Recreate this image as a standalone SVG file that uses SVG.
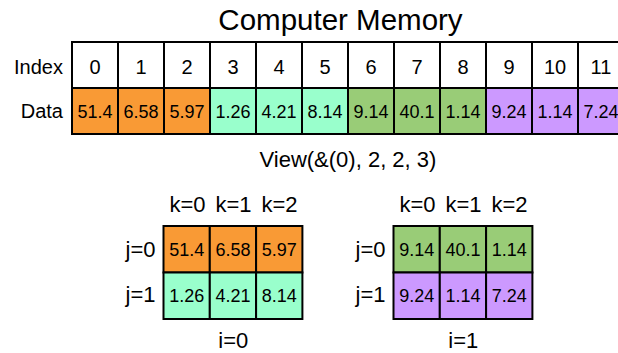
<svg xmlns="http://www.w3.org/2000/svg" width="618" height="353" viewBox="0 0 618 353">
  <style>
    text { font-family: "Liberation Sans", Arial, Helvetica, sans-serif; fill: #000; }
    .title { font-size: 29.5px; text-anchor: middle; }
    .lbl { font-size: 20px; }
    .ax { font-size: 22px; }
    .mid { text-anchor: middle; }
    .end { text-anchor: end; }
    .val { font-size: 18px; text-anchor: middle; }
    .cell { stroke: #000; stroke-width: 2; }
    .w { fill: #fff; }
    .o { fill: #f99a35; }
    .m { fill: #99ffcc; }
    .g { fill: #99cc77; }
    .p { fill: #cc99ff; }
  </style>

  <text class="title" x="340.5" y="30">Computer Memory</text>

  <!-- linear memory: index row and data row -->
  <g id="memory">
    <text class="lbl end" x="63" y="74">Index</text>
    <text class="lbl end" x="63" y="118">Data</text>
    <g class="cell">
      <rect class="w" x="72" y="42" width="46" height="46"/>
      <rect class="w" x="118" y="42" width="46" height="46"/>
      <rect class="w" x="164" y="42" width="46" height="46"/>
      <rect class="w" x="210" y="42" width="46" height="46"/>
      <rect class="w" x="256" y="42" width="46" height="46"/>
      <rect class="w" x="302" y="42" width="46" height="46"/>
      <rect class="w" x="348" y="42" width="46" height="46"/>
      <rect class="w" x="394" y="42" width="46" height="46"/>
      <rect class="w" x="440" y="42" width="46" height="46"/>
      <rect class="w" x="486" y="42" width="46" height="46"/>
      <rect class="w" x="532" y="42" width="46" height="46"/>
      <rect class="w" x="578" y="42" width="46" height="46"/>
      <rect class="o" x="72" y="88" width="46" height="46"/>
      <rect class="o" x="118" y="88" width="46" height="46"/>
      <rect class="o" x="164" y="88" width="46" height="46"/>
      <rect class="m" x="210" y="88" width="46" height="46"/>
      <rect class="m" x="256" y="88" width="46" height="46"/>
      <rect class="m" x="302" y="88" width="46" height="46"/>
      <rect class="g" x="348" y="88" width="46" height="46"/>
      <rect class="g" x="394" y="88" width="46" height="46"/>
      <rect class="g" x="440" y="88" width="46" height="46"/>
      <rect class="p" x="486" y="88" width="46" height="46"/>
      <rect class="p" x="532" y="88" width="46" height="46"/>
      <rect class="p" x="578" y="88" width="46" height="46"/>
    </g>
    <g class="lbl mid">
      <text x="95" y="74">0</text>
      <text x="141" y="74">1</text>
      <text x="187" y="74">2</text>
      <text x="233" y="74">3</text>
      <text x="279" y="74">4</text>
      <text x="325" y="74">5</text>
      <text x="371" y="74">6</text>
      <text x="417" y="74">7</text>
      <text x="463" y="74">8</text>
      <text x="509" y="74">9</text>
      <text x="555" y="74">10</text>
      <text x="601" y="74">11</text>
    </g>
    <g>
      <text class="val" x="95" y="118">51.4</text>
      <text class="val" x="141" y="118">6.58</text>
      <text class="val" x="187" y="118">5.97</text>
      <text class="val" x="233" y="118">1.26</text>
      <text class="val" x="279" y="118">4.21</text>
      <text class="val" x="325" y="118">8.14</text>
      <text class="val" x="371" y="118">9.14</text>
      <text class="val" x="417" y="118">40.1</text>
      <text class="val" x="463" y="118">1.14</text>
      <text class="val" x="509" y="118">9.24</text>
      <text class="val" x="555" y="118">1.14</text>
      <text class="val" x="601" y="118">7.24</text>
    </g>
  </g>

  <text class="ax" x="259.5" y="166.5">View(&amp;(0), 2, 2, 3)</text>

  <!-- view slice i=0 -->
  <g id="slice-i0">
    <g class="ax mid">
      <text x="187.5" y="211.5">k=0</text>
      <text x="233.5" y="211.5">k=1</text>
      <text x="279.5" y="211.5">k=2</text>
    </g>
    <text class="ax end" x="155.5" y="256.5">j=0</text>
    <text class="ax end" x="155.5" y="302">j=1</text>
    <g class="cell">
      <rect class="o" x="163.5" y="226" width="46.3" height="46.5"/>
      <rect class="o" x="209.8" y="226" width="46.3" height="46.5"/>
      <rect class="o" x="256.1" y="226" width="46.3" height="46.5"/>
      <rect class="m" x="163.5" y="272.5" width="46.3" height="46.5"/>
      <rect class="m" x="209.8" y="272.5" width="46.3" height="46.5"/>
      <rect class="m" x="256.1" y="272.5" width="46.3" height="46.5"/>
    </g>
    <text class="val" x="186.7" y="256">51.4</text>
    <text class="val" x="233" y="256">6.58</text>
    <text class="val" x="279.3" y="256">5.97</text>
    <text class="val" x="186.7" y="302">1.26</text>
    <text class="val" x="233" y="302">4.21</text>
    <text class="val" x="279.3" y="302">8.14</text>
    <text class="ax mid" x="233.3" y="347.5">i=0</text>
  </g>

  <!-- view slice i=1 -->
  <g id="slice-i1">
    <g class="ax mid">
      <text x="417.5" y="211.5">k=0</text>
      <text x="463.5" y="211.5">k=1</text>
      <text x="509.5" y="211.5">k=2</text>
    </g>
    <text class="ax end" x="385.5" y="256.5">j=0</text>
    <text class="ax end" x="385.5" y="302">j=1</text>
    <g class="cell">
      <rect class="g" x="393.5" y="226" width="46.3" height="46.5"/>
      <rect class="g" x="439.8" y="226" width="46.3" height="46.5"/>
      <rect class="g" x="486.1" y="226" width="46.3" height="46.5"/>
      <rect class="p" x="393.5" y="272.5" width="46.3" height="46.5"/>
      <rect class="p" x="439.8" y="272.5" width="46.3" height="46.5"/>
      <rect class="p" x="486.1" y="272.5" width="46.3" height="46.5"/>
    </g>
    <text class="val" x="416.7" y="256">9.14</text>
    <text class="val" x="463" y="256">40.1</text>
    <text class="val" x="509.3" y="256">1.14</text>
    <text class="val" x="416.7" y="302">9.24</text>
    <text class="val" x="463" y="302">1.14</text>
    <text class="val" x="509.3" y="302">7.24</text>
    <text class="ax mid" x="463.3" y="347.5">i=1</text>
  </g>
</svg>
